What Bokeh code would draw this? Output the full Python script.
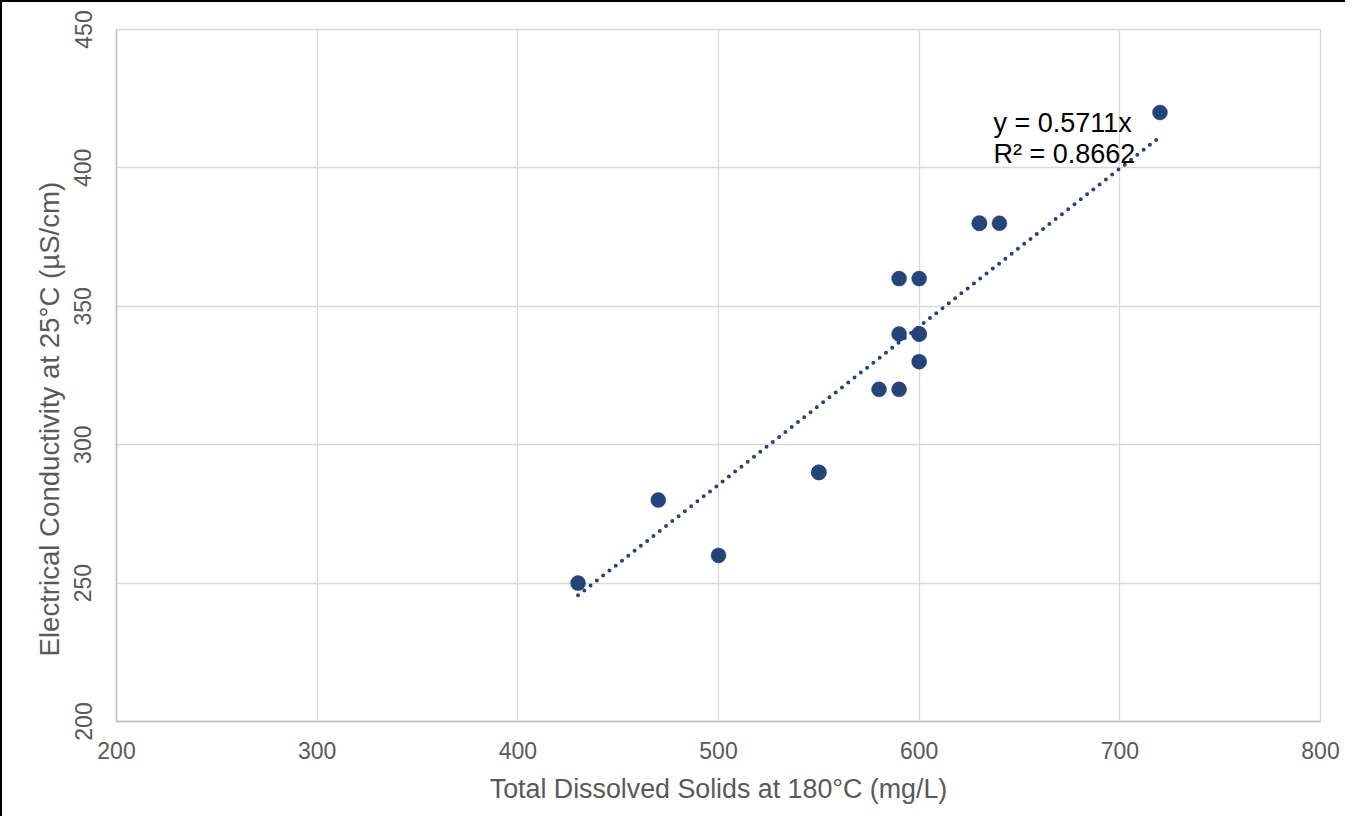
from bokeh.plotting import figure
from bokeh.models import Range1d, FixedTicker, Label, Title, ColumnDataSource
from bokeh.embed import file_html
from bokeh.resources import INLINE

# ---- data ----
tds = [430, 470, 500, 550, 550, 580, 590, 590, 590, 600, 600, 600, 600, 630, 630, 640, 720]
ec = [250, 280, 260, 290, 290, 320, 320, 340, 360, 340, 340, 330, 360, 380, 380, 380, 420]
x_ticks = [200, 300, 400, 500, 600, 700, 800]
y_ticks = [200, 250, 300, 350, 400, 450]
trend_slope = 0.5711
trend_r2 = 0.8662
x_title = "Total Dissolved Solids at 180°C (mg/L)"
y_title = "Electrical Conductivity at 25°C (µS/cm)"

FONT = "Liberation Sans"
GREY = "#595959"
BLUE = "#264478"

p = figure(width=1345, height=816, output_backend="svg", toolbar_location=None,
           x_range=Range1d(x_ticks[0], x_ticks[-1]), y_range=Range1d(y_ticks[0], y_ticks[-1]),
           min_border_left=114, min_border_top=27, min_border_right=27, min_border_bottom=97)
p.styles = {"border-left": "2px solid black", "border-top": "2px solid black"}
p.outline_line_color = "#d9d9d9"
p.outline_line_width = 1.3

for ax, ticks in ((p.xaxis, x_ticks), (p.yaxis, y_ticks)):
    ax.ticker = FixedTicker(ticks=ticks)
    ax.axis_line_color = "#bfbfbf"
    ax.axis_line_width = 1.5
    ax.major_tick_line_color = None
    ax.minor_tick_line_color = None
    ax.major_tick_out = 0
    ax.major_tick_in = 0
    ax.major_label_text_font = FONT
    ax.major_label_text_font_size = "23px"
    ax.major_label_text_color = GREY

p.xaxis.axis_label = x_title
p.xaxis.axis_label_text_font = FONT
p.xaxis.axis_label_text_font_size = "26.8px"
p.xaxis.axis_label_text_font_style = "normal"
p.xaxis.axis_label_text_color = GREY
p.xaxis.major_label_standoff = 20
p.xaxis.axis_label_standoff = 12
p.yaxis.major_label_orientation = "vertical"
p.yaxis.major_label_standoff = 25

p.grid.grid_line_color = "#d9d9d9"
p.grid.grid_line_width = 1.3

# y axis title, set below the frame centre as in the original
p.add_layout(Title(text=y_title, align="left", offset=65, standoff=13, text_font=FONT,
                   text_font_size="27.6px", text_font_style="normal", text_color=GREY),
             "left")

# trendline through origin
tx = [min(tds), max(tds)]
ty = [trend_slope * v for v in tx]
p.line(tx, ty, line_color=BLUE, line_width=4, line_dash="0 8", line_cap="round")

src = ColumnDataSource(dict(x=tds, y=ec))
p.scatter("x", "y", source=src, size=15, fill_color=BLUE, line_color=BLUE, line_width=0.5)

lab_x = 637
p.add_layout(Label(x=lab_x, y=416.2, text=f"y = {trend_slope:.4f}x", text_font=FONT,
                   text_font_size="27px", text_color="black", text_baseline="alphabetic"))
p.add_layout(Label(x=lab_x, y=405.0, text=f"R² = {trend_r2:.4f}", text_font=FONT,
                   text_font_size="27px", text_color="black", text_baseline="alphabetic"))

open("out.html", "w").write(file_html(p, INLINE))
